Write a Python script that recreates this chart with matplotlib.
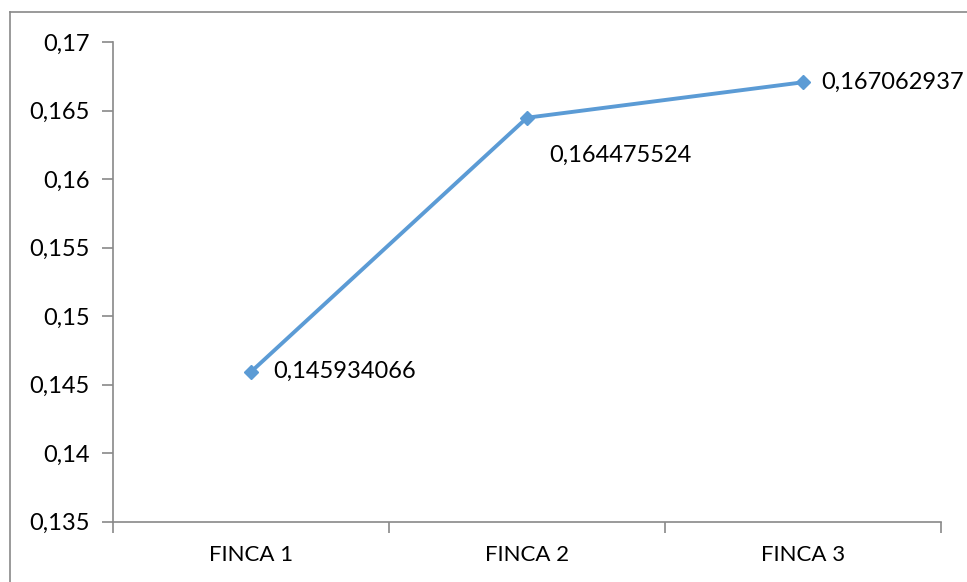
import matplotlib.pyplot as plt
from matplotlib.lines import Line2D

plt.rcParams['font.family'] = ['Lato', 'DejaVu Sans']

fincas = ['FINCA 1', 'FINCA 2', 'FINCA 3']
valores = [0.145934066, 0.164475524, 0.167062937]
yticks = [0.135, 0.14, 0.145, 0.15, 0.155, 0.16, 0.165, 0.17]

fig = plt.figure(figsize=(9.67, 5.82), dpi=100)
ax = fig.add_axes([0.1169, 0.1037, 0.8562, 0.8241])

# outer chart frame (only left and top edges fall inside the image)
gris = '#898989'
fig.add_artist(Line2D([10 / 967, 10 / 967], [0, 1 - 12 / 582], transform=fig.transFigure,
                      color=gris, lw=1.2))
fig.add_artist(Line2D([10 / 967, 1], [1 - 12 / 582, 1 - 12 / 582], transform=fig.transFigure,
                      color=gris, lw=1.2))

x = list(range(len(fincas)))
ax.plot(x, valores, color='#5B9BD5', lw=2.8, marker='D', markersize=7.5,
        markerfacecolor='#5B9BD5', markeredgecolor='#5B9BD5')

def coma(v):
    return str(v).replace('.', ',')

# data labels
ax.annotate(coma(valores[0]), (x[0], valores[0]), xytext=(22, 0), textcoords='offset pixels',
            ha='left', va='center', fontsize=17)
ax.annotate(coma(valores[1]), (x[1], valores[1]), xytext=(22, -38), textcoords='offset pixels',
            ha='left', va='center', fontsize=17)
ax.annotate(coma(valores[2]), (x[2], valores[2]), xytext=(18, 0), textcoords='offset pixels',
            ha='left', va='center', fontsize=17)

ax.set_xlim(-0.5, 2.5)
ax.set_ylim(0.135, 0.17)
ax.set_yticks(yticks)
ax.set_yticklabels([coma(round(t, 3)) for t in yticks], fontsize=17)
ax.set_xticks(x)
ax.set_xticklabels(fincas, fontsize=16)
ax.set_xticks([-0.5, 0.5, 1.5, 2.5], minor=True)
ax.tick_params(axis='x', which='major', length=0, pad=17)
ax.tick_params(axis='x', which='minor', length=8, color=gris, width=1.2)
ax.tick_params(axis='y', length=8, color=gris, width=1.2, pad=9)

for s in ['top', 'right']:
    ax.spines[s].set_visible(False)
for s in ['left', 'bottom']:
    ax.spines[s].set_color(gris)
    ax.spines[s].set_linewidth(1.2)

fig.savefig('out.png', dpi=100)
